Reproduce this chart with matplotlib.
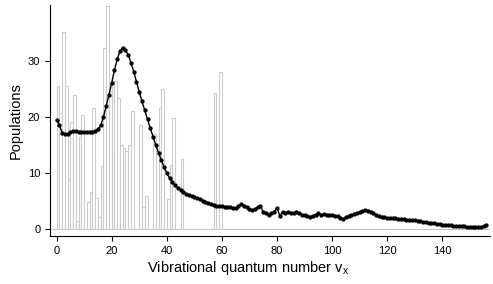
import matplotlib
matplotlib.use("Agg")
import matplotlib.pyplot as plt
import numpy as np

plt.rcParams['font.family'] = ['Liberation Sans', 'DejaVu Sans']
plt.rcParams['mathtext.default'] = 'regular'

# bar histogram: population per vibrational level (left edge at v)
bar_v = list(range(0, 60))
bar_pop = [25.5, 20.7, 35.2, 25.6, 9.0, 19.1, 23.9, 1.4, 16.5, 20.3,
           0.0, 4.9, 6.6, 21.6, 5.5, 2.1, 11.2, 32.3, 39.8, 24.7,
           26.3, 26.5, 23.4, 15.0, 14.4, 14.0, 15.0, 21.1, 0.0, 0.0,
           18.5, 3.9, 5.9, 0.0, 0.0, 16.9, 0.0, 21.6, 25.0, 0.0,
           5.3, 11.4, 19.9, 0.0, 0.0, 12.5, 0.0, 0.0, 0.0, 0.0,
           0.0, 0.0, 0.0, 0.0, 0.0, 0.0, 0.0, 24.3, 0.0, 28.1]

# smooth distribution (black line with markers), v = 0..156
line_v = list(range(0, 157))
line_pop = [19.5, 18.6, 17.2, 16.9, 17.0, 17.3, 17.5, 17.5, 17.4, 17.4,
            17.4, 17.3, 17.3, 17.4, 17.5, 17.8, 18.5, 20.0, 22.0, 24.0,
            26.1, 28.4, 30.3, 31.8, 32.4, 32.0, 31.1, 29.7, 28.1, 26.3,
            24.5, 22.8, 21.2, 19.6, 18.0, 16.5, 15.0, 13.6, 12.3, 11.1,
            10.0, 9.1, 8.4, 7.8, 7.3, 7.0, 6.6, 6.3, 6.1, 5.9,
            5.7, 5.5, 5.3, 5.1, 4.9, 4.7, 4.5, 4.3, 4.2, 4.1,
            4.1, 4.0, 3.9, 3.9, 3.8, 3.8, 4.1, 4.5, 4.2, 3.9,
            3.6, 3.4, 3.6, 3.9, 4.2, 3.0, 2.9, 2.6, 2.8, 3.1,
            3.8, 2.4, 3.0, 2.8, 3.0, 2.9, 2.8, 3.0, 2.8, 2.6,
            2.5, 2.4, 2.2, 2.4, 2.6, 2.8, 2.5, 2.7, 2.6, 2.5,
            2.6, 2.4, 2.3, 2.0, 1.8, 2.1, 2.4, 2.5, 2.7, 2.9,
            3.0, 3.2, 3.4, 3.2, 3.0, 2.8, 2.5, 2.4, 2.2, 2.1,
            2.0, 1.9, 1.9, 1.9, 1.8, 1.8, 1.8, 1.7, 1.7, 1.6,
            1.6, 1.5, 1.4, 1.3, 1.2, 1.1, 1.0, 1.0, 0.9, 0.9,
            0.8, 0.8, 0.7, 0.7, 0.6, 0.6, 0.5, 0.5, 0.5, 0.4,
            0.4, 0.4, 0.4, 0.4, 0.4, 0.5, 0.8]

x_ticks = [0, 20, 40, 60, 80, 100, 120, 140]
y_ticks = [0, 10, 20, 30]

fig = plt.figure(figsize=(4.93, 2.84), dpi=100)
ax = fig.add_axes([0.1014, 0.169, 0.893, 0.813])

ax.axhline(0, color='#c8c8c8', linewidth=0.8, zorder=1)
ax.bar(bar_v, bar_pop, width=1.0, align='edge', facecolor='white',
       edgecolor='#cccccc', linewidth=0.8, zorder=2)
ax.plot(line_v, line_pop, color='black', linewidth=1.0, marker='o',
        markersize=2.1, zorder=3)

ax.set_xlim(-2.4, 157.4)
ax.set_ylim(-1.24, 40.0)
ax.set_xticks(x_ticks)
ax.set_yticks(y_ticks)
ax.tick_params(direction='out', length=3.5, width=0.8, labelsize=8, colors='black')

for s in ['top', 'right']:
    ax.spines[s].set_visible(False)
for s in ['left', 'bottom']:
    ax.spines[s].set_linewidth(0.8)

ax.set_xlabel(r'Vibrational quantum number v$_{x}$', fontsize=10.5, labelpad=2)
ax.xaxis.label.set_x(0.45)
ax.set_ylabel('Populations', fontsize=10.5, labelpad=4)

fig.savefig('out.png', dpi=100, facecolor='white')
